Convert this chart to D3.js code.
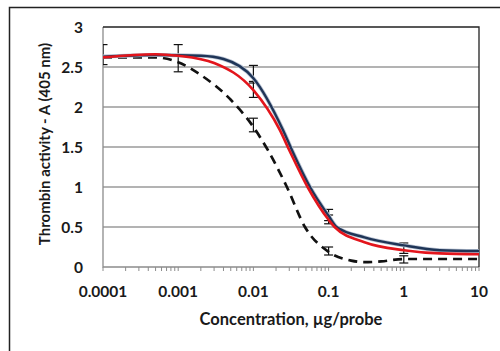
<!DOCTYPE html>
<html>
<head>
<meta charset="utf-8">
<script src="https://cdn.jsdelivr.net/npm/d3@7"></script>
<style>
  body { margin: 0; background: #fff; }
  text { font-family: Lato, "Open Sans", sans-serif; font-weight: bold; fill: #1a1a1a; }
</style>
</head>
<body>
<div id="chart"></div>
<script>
// concentrations (µg/probe) and absorbance
var blueConc = [0.0001, 0.0005, 0.002, 0.004, 0.01, 0.0248, 0.0326, 0.0566, 0.1, 0.128, 0.3, 1, 3, 10];
var blueVals = [2.63, 2.65, 2.64, 2.6, 2.36, 1.71, 1.46, 1.0, 0.64, 0.5, 0.37, 0.27, 0.21, 0.2];

var redConc = [0.0001, 0.0005, 0.001, 0.003, 0.01, 0.0225, 0.03, 0.0525, 0.1, 0.12, 0.3, 1, 3, 10];
var redVals = [2.62, 2.66, 2.64, 2.55, 2.21, 1.71, 1.46, 1.0, 0.59, 0.5, 0.31, 0.21, 0.17, 0.16];

var dashConc = [0.0001, 0.0005, 0.001, 0.002, 0.005, 0.01, 0.0156, 0.0279, 0.0485, 0.1, 0.2, 0.3, 0.5, 1, 3, 10];
var dashVals = [2.62, 2.62, 2.56, 2.4, 2.09, 1.75, 1.46, 1.0, 0.5, 0.19, 0.08, 0.06, 0.07, 0.1, 0.1, 0.1];

// error bars: concentration, low, high
var errConc = [0.0001, 0.001, 0.01, 0.01, 0.01, 0.1, 0.1, 0.1, 1, 1];
var errLow  = [2.53, 2.44, 2.3, 2.12, 1.69, 0.58, 0.54, 0.15, 0.17, 0.05];
var errHigh = [2.78, 2.78, 2.52, 2.32, 1.86, 0.72, 0.65, 0.25, 0.3, 0.14];

var xTicks = [0.0001, 0.001, 0.01, 0.1, 1, 10];
var xTickLabels = ["0.0001", "0.001", "0.01", "0.1", "1", "10"];
var yTicks = [0, 0.5, 1, 1.5, 2, 2.5, 3];

var width = 500, height = 351;
var plotL = 103, plotR = 479, plotT = 27, plotB = 267;

var svg = d3.select("#chart").append("svg")
    .attr("width", width)
    .attr("height", height);

// outer frame
svg.append("path")
    .attr("d", "M9.5," + height + "V7.5H" + width)
    .attr("fill", "none")
    .attr("stroke", "#222")
    .attr("stroke-width", 1.5);

var x = d3.scaleLog().domain([0.0001, 10]).range([plotL, plotR]);
var y = d3.scaleLinear().domain([0, 3]).range([plotB, plotT]);

svg.append("defs").append("clipPath").attr("id", "plot")
    .append("rect")
    .attr("x", plotL).attr("y", plotT - 2)
    .attr("width", plotR - plotL).attr("height", plotB - plotT + 4);

// gridlines
svg.append("g").selectAll("line")
    .data(yTicks.filter(function (d) { return d > 0 && d < 3; }))
    .enter().append("line")
    .attr("x1", plotL).attr("x2", plotR)
    .attr("y1", function (d) { return y(d); })
    .attr("y2", function (d) { return y(d); })
    .attr("stroke", "#9a9a9a")
    .attr("stroke-width", 1.3);

// plot box: gray left/bottom, dark top/right
svg.append("path")
    .attr("d", "M" + plotL + "," + plotT + "V" + plotB + "H" + plotR)
    .attr("fill", "none").attr("stroke", "#8c8c8c").attr("stroke-width", 1.3);
svg.append("path")
    .attr("d", "M" + plotL + "," + plotT + "H" + plotR + "V" + plotB)
    .attr("fill", "none").attr("stroke", "#222").attr("stroke-width", 1.3);

// x axis minor/major ticks pointing down
var allTicks = [];
for (var e = -4; e < 1; e++) {
    for (var m = 1; m < 10; m++) allTicks.push(m * Math.pow(10, e));
}
allTicks.push(10);
svg.append("g").selectAll("line")
    .data(allTicks)
    .enter().append("line")
    .attr("x1", function (d) { return x(d); })
    .attr("x2", function (d) { return x(d); })
    .attr("y1", plotB).attr("y2", plotB + 4)
    .attr("stroke", "#8c8c8c")
    .attr("stroke-width", 1);

svg.append("g").selectAll("text")
    .data(xTicks)
    .enter().append("text")
    .attr("x", function (d) { return x(d); })
    .attr("y", 297)
    .attr("text-anchor", "middle")
    .style("font-size", "15.5px")
    .text(function (d, i) { return xTickLabels[i]; });

svg.append("g").selectAll("text")
    .data(yTicks)
    .enter().append("text")
    .attr("x", 83)
    .attr("y", function (d) { return y(d); })
    .attr("dy", "0.36em")
    .attr("text-anchor", "end")
    .style("font-size", "15.5px")
    .text(function (d) { return d; });

svg.append("text")
    .attr("transform", "translate(50,144) rotate(-90)")
    .attr("text-anchor", "middle")
    .style("font-size", "15px")
    .text("Thrombin activity - A (405 nm)");

svg.append("text")
    .attr("x", 291)
    .attr("y", 325)
    .attr("text-anchor", "middle")
    .style("font-size", "16.5px")
    .text("Concentration, µg/probe");

var plot = svg.append("g").attr("clip-path", "url(#plot)");

var line = d3.line()
    .x(function (d) { return x(d[0]); })
    .y(function (d) { return y(d[1]); })
    .curve(d3.curveMonotoneX);

function pairs(c, v) { return c.map(function (d, i) { return [d, v[i]]; }); }

// error bars
var eb = plot.append("g").attr("stroke", "#111").attr("stroke-width", 1.2);
errConc.forEach(function (c, i) {
    var cx = x(c);
    eb.append("line").attr("x1", cx).attr("x2", cx).attr("y1", y(errLow[i])).attr("y2", y(errHigh[i]));
    eb.append("line").attr("x1", cx - 4.5).attr("x2", cx + 4.5).attr("y1", y(errLow[i])).attr("y2", y(errLow[i]));
    eb.append("line").attr("x1", cx - 4.5).attr("x2", cx + 4.5).attr("y1", y(errHigh[i])).attr("y2", y(errHigh[i]));
});

plot.append("path")
    .datum(pairs(dashConc, dashVals))
    .attr("d", line)
    .attr("fill", "none")
    .attr("stroke", "#111")
    .attr("stroke-width", 2.7)
    .attr("stroke-dasharray", "9,6");

plot.append("path")
    .datum(pairs(blueConc, blueVals))
    .attr("d", line)
    .attr("fill", "none")
    .attr("stroke", "#b9c3d3")
    .attr("stroke-width", 4);
plot.append("path")
    .datum(pairs(blueConc, blueVals))
    .attr("d", line)
    .attr("fill", "none")
    .attr("stroke", "#1f3557")
    .attr("stroke-width", 2.4);

plot.append("path")
    .datum(pairs(redConc, redVals))
    .attr("d", line)
    .attr("fill", "none")
    .attr("stroke", "#e3151c")
    .attr("stroke-width", 2.6);
</script>
</body>
</html>
